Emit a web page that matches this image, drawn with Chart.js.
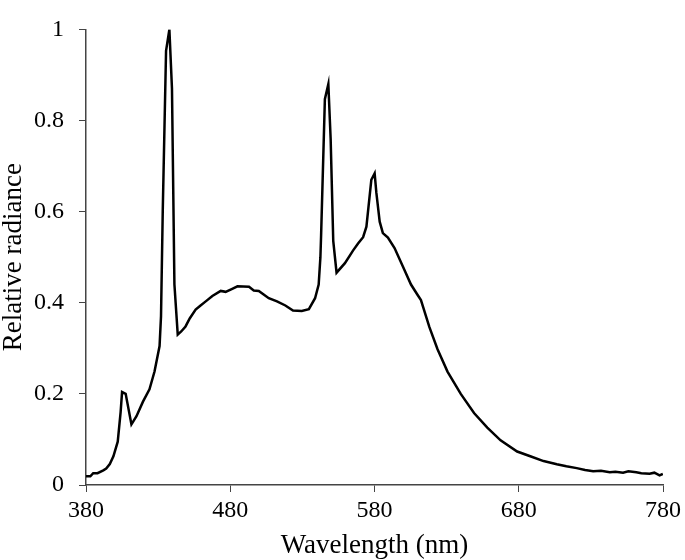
<!DOCTYPE html>
<html>
<head>
<meta charset="utf-8">
<script src="https://cdn.jsdelivr.net/npm/chart.js@4.4.1/dist/chart.umd.min.js"></script>
<style>
  html, body { margin: 0; padding: 0; background: #fff; }
  #wrap { width: 685px; height: 560px; }
</style>
</head>
<body>
<div id="wrap"><canvas id="myChart" width="685" height="560"></canvas></div>
<script>
// wavelength (nm) and relative radiance
const wavelengths = [
  380, 383, 385, 388, 392, 394, 396.5, 399, 402, 404, 405, 407.5, 411.5, 415,
  419.5, 424, 427.5, 431, 432, 433.2, 435.5, 437.8, 439.6, 441.3, 443.6, 446,
  449, 452, 456, 459, 463, 467.6, 473.4, 476.8, 481, 485, 493, 496.3, 499.8,
  506.7, 512.4, 518.2, 523.5, 529.6, 534.5, 538.8, 541.3, 542.5, 543, 545.6,
  548, 549.6, 551.4, 553.7, 559.5, 565.2, 568.6, 572.1, 574.4, 577.8, 580.1,
  581.3, 583.6, 585.8, 589.3, 593.9, 599.6, 605.3, 609.9, 612.2, 618, 623.7,
  630.6, 639.8, 649, 658.2, 667.4, 678.9, 688, 697.2, 706.4, 713, 720.2, 726,
  731.6, 737, 743.1, 747, 752.3, 756, 761.5, 765, 770.7, 774, 777.6, 779.9
];
const radiance = [
  0.019, 0.019, 0.026, 0.026, 0.032, 0.036, 0.046, 0.063, 0.095, 0.16, 0.204,
  0.2, 0.133, 0.151, 0.183, 0.21, 0.249, 0.305, 0.37, 0.6, 0.953, 1.0, 0.87,
  0.44, 0.33, 0.337, 0.348, 0.366, 0.385, 0.393, 0.403, 0.415, 0.426, 0.424,
  0.43, 0.436, 0.435, 0.427, 0.426, 0.41, 0.403, 0.394, 0.383, 0.382, 0.386,
  0.41, 0.44, 0.5, 0.55, 0.847, 0.88, 0.76, 0.536, 0.466, 0.487, 0.515, 0.53,
  0.544, 0.567, 0.67, 0.684, 0.641, 0.578, 0.553, 0.543, 0.52, 0.48, 0.44,
  0.417, 0.406, 0.347, 0.298, 0.249, 0.2, 0.158, 0.126, 0.098, 0.0735, 0.063,
  0.0525, 0.0455, 0.041, 0.037, 0.033, 0.03, 0.031, 0.028, 0.029, 0.027,
  0.030, 0.028, 0.026, 0.0245, 0.027, 0.021, 0.0245
];
const xTicks = [380, 480, 580, 680, 780];
const yTicks = [0, 0.2, 0.4, 0.6, 0.8, 1];

function myLoadFunction() {
  const ctx = document.getElementById("myChart");
  const points = wavelengths.map((w, i) => ({ x: w, y: radiance[i] }));
  const tickFont = { family: "'Liberation Serif', 'Times New Roman', serif", size: 24 };
  const titleFont = { family: "'Liberation Serif', 'Times New Roman', serif", size: 27, lineHeight: 1 };

  new Chart(ctx, {
    type: "line",
    data: {
      datasets: [
        {
          data: points,
          borderColor: "#000000",
          borderWidth: 2.5,
          pointRadius: 0,
          tension: 0,
          fill: false,
        },
      ],
    },
    options: {
      responsive: false,
      animation: false,
      layout: { padding: { top: 9, right: 18, left: 0, bottom: 0 } },
      plugins: { legend: { display: false }, tooltip: { enabled: false } },
      scales: {
        x: {
          type: "linear",
          min: 380,
          max: 780,
          afterBuildTicks: (s) => { s.ticks = xTicks.map((v) => ({ value: v })); },
          afterFit: (s) => { s.height = 75; },
          grid: { drawOnChartArea: false, tickLength: 7, color: "#444" },
          border: { color: "#444", width: 1.5 },
          ticks: { font: tickFont, color: "#000", padding: 4, maxRotation: 0 },
          title: { display: true, text: "Wavelength (nm)", font: titleFont, color: "#000", padding: { top: 0, bottom: 1 } },
        },
        y: {
          min: 0,
          max: 1,
          afterBuildTicks: (s) => { s.ticks = yTicks.map((v) => ({ value: v })); },
          afterFit: (s) => { s.width = 86; },
          grid: { drawOnChartArea: false, tickLength: 7, color: "#444" },
          border: { color: "#444", width: 1.5 },
          ticks: { font: tickFont, color: "#000", padding: 15, callback: (v) => String(v) },
          title: { display: true, text: "Relative radiance", font: titleFont, color: "#000", padding: { top: 0, bottom: 0 } },
        },
      },
    },
  });
}

document.addEventListener("DOMContentLoaded", myLoadFunction);
</script>
</body>
</html>
